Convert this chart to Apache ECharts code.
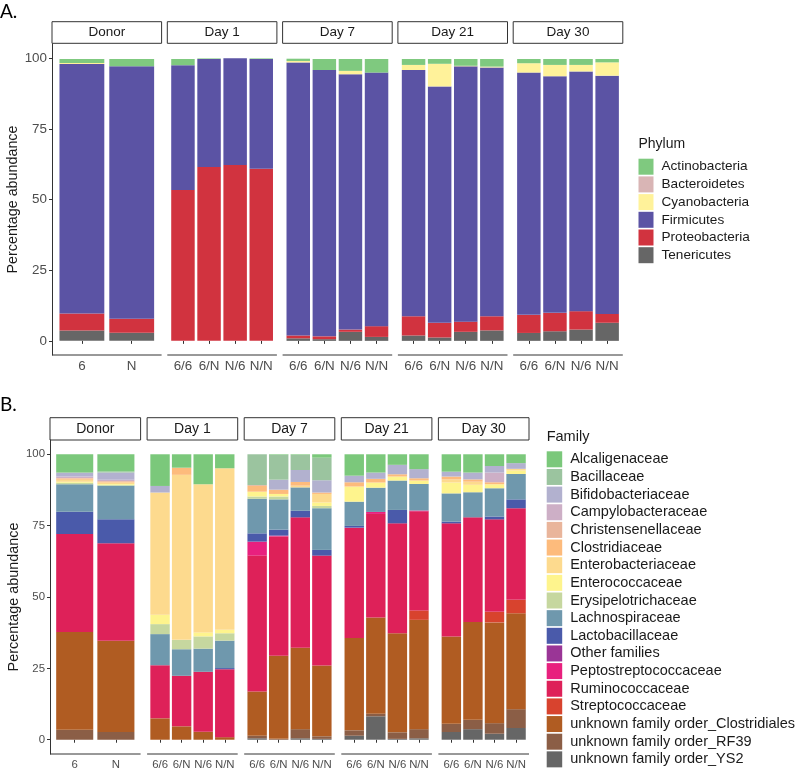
<!DOCTYPE html>
<html>
<head>
<meta charset="utf-8">
<script src="https://cdn.jsdelivr.net/npm/echarts@6/dist/echarts.min.js"></script>
<style>
html, body { margin: 0; padding: 0; background: #fff; }
#chart { width: 799px; height: 774px; }
</style>
</head>
<body>
<div id="chart"></div>
<script>
var facets = ['Donor', 'Day 1', 'Day 7', 'Day 21', 'Day 30'];
var donorSamples = ['6', 'N'];
var daySamples = ['6/6', '6/N', 'N/6', 'N/N'];
var yTicks = [0, 25, 50, 75, 100];

// every taxon array: Donor 6, N | Day 1 | Day 7 | Day 21 | Day 30  (days: 6/6, 6/N, N/6, N/N)
var phylumNames = ['Actinobacteria', 'Bacteroidetes', 'Cyanobacteria', 'Firmicutes', 'Proteobacteria', 'Tenericutes'];
var phylumColors = ['#7fc97f', '#d9b5b5', '#fff29a', '#5b53a4', '#d1333f', '#666666'];
var actinobacteria = [1.4, 2.6, 2.2, 0.2, 0, 0.2, 0.8, 3.9, 4.2, 4.8, 2.1, 1.7, 2.4, 2.7, 1.5, 2.1, 2.1, 1.2];
var bacteroidetes  = [0, 0, 0, 0, 0, 0, 0, 0, 0, 0, 0, 0, 0, 0, 0, 0, 0, 0];
var cyanobacteria  = [0.4, 0, 0, 0, 0, 0, 0.5, 0, 1.2, 0, 1.8, 8.0, 0.2, 0.3, 3.3, 4.0, 2.3, 4.7];
var firmicutes     = [88.2, 89.3, 44.1, 38.2, 37.8, 38.8, 96.6, 94.2, 90.3, 89.7, 87.1, 83.6, 90.3, 88.0, 85.7, 83.7, 84.8, 84.3];
var proteobacteria = [6.0, 4.9, 53.4, 61.5, 62.2, 60.9, 1.0, 1.0, 0.8, 3.8, 6.8, 5.2, 3.6, 5.0, 6.4, 6.5, 6.5, 3.1];
var tenericutes    = [3.7, 2.9, 0, 0, 0, 0, 0.9, 0.6, 3.2, 1.4, 1.9, 1.2, 3.2, 3.7, 2.8, 3.4, 4.0, 6.4];
var phylumValues = [actinobacteria, bacteroidetes, cyanobacteria, firmicutes, proteobacteria, tenericutes];

var familyNames = ['Alcaligenaceae', 'Bacillaceae', 'Bifidobacteriaceae', 'Campylobacteraceae',
  'Christensenellaceae', 'Clostridiaceae', 'Enterobacteriaceae', 'Enterococcaceae', 'Erysipelotrichaceae',
  'Lachnospiraceae', 'Lactobacillaceae', 'Other families', 'Peptostreptococcaceae', 'Ruminococcaceae',
  'Streptococcaceae', 'unknown family order_Clostridiales', 'unknown family order_RF39', 'unknown family order_YS2'];
var familyColors = ['#7bc87b', '#9bc49f', '#b2b1cf', '#cdafc6', '#e9b59b', '#fdbb7c', '#fdda8e', '#fef48d',
  '#c6d79f', '#6f98ad', '#4a5aaa', '#9a3596', '#e8207e', '#de2159', '#d8432e', '#b05c22', '#8b5e46', '#666666'];
var alcaligenaceae      = [6.3, 6.0, 11.1, 4.7, 10.5, 4.9, 0, 0.2, 0.2, 1.2, 7.5, 6.4, 3.7, 5.2, 6.1, 6.4, 4.1, 3.1];
var bacillaceae         = [0.3, 0.4, 0, 0, 0, 0, 10.8, 8.7, 5.3, 7.9, 0, 0, 0, 0, 0, 0, 0, 0];
var bifidobacteriaceae  = [1.2, 2.5, 2.3, 0, 0, 0, 0, 3.5, 4.2, 4.3, 2.3, 2.2, 3.3, 3.2, 1.7, 2.4, 2.3, 2.0];
var campylobacteraceae  = [0.5, 0.5, 0, 0, 0, 0, 0, 0, 0, 0, 0, 0, 0, 0, 0, 0, 3.4, 0];
var christensenellaceae = [0.2, 0.2, 0, 0, 0, 0, 0.3, 0, 0, 0, 0, 0, 0, 0, 0, 0, 0, 0];
var clostridiaceae      = [0.4, 0.3, 0, 2.5, 0, 0, 2.0, 1.5, 1.3, 0.5, 1.5, 1.3, 0.8, 0.8, 1.0, 0.8, 0.7, 0];
var enterobacteriaceae  = [0.7, 0.5, 42.8, 57.8, 51.9, 56.6, 0, 0, 0.6, 3.0, 0, 0, 0, 0, 1.1, 1.1, 0, 0.6];
var enterococcaceae     = [0.4, 0.3, 3.3, 0, 1.4, 1.2, 1.7, 0.9, 0, 1.2, 5.3, 1.8, 1.4, 1.2, 3.8, 2.6, 1.4, 1.2];
var erysipelotrichaceae = [0.5, 0.3, 3.5, 3.3, 4.3, 2.6, 0.8, 1.0, 0, 0.8, 0, 0, 0, 0, 0, 0, 0, 0];
var lachnospiraceae     = [9.6, 11.8, 10.9, 9.3, 8.1, 9.6, 12.1, 10.6, 8.2, 14.6, 8.5, 8.5, 10.3, 9.3, 9.9, 8.8, 9.9, 8.9];
var lactobacillaceae    = [7.8, 8.4, 0, 0, 0, 0.4, 2.9, 2.1, 2.3, 2.0, 0.6, 0, 4.7, 0, 0.6, 0, 1.0, 3.1];
var otherFamilies       = [0, 0, 0, 0, 0, 0, 0, 0, 0, 0, 0, 0, 0, 0, 0, 0, 0, 0];
var peptostreptococcaceae = [0, 0, 0, 0, 0, 0, 4.9, 0.3, 0, 0, 0, 0.7, 0, 0.3, 0, 0, 0, 0];
var ruminococcaceae     = [34.4, 34.1, 18.6, 17.7, 21.0, 23.8, 47.6, 41.8, 45.7, 38.5, 38.7, 36.3, 38.5, 34.7, 39.6, 36.7, 32.4, 32.1];
var streptococcaceae    = [0, 0, 0, 0, 0, 0, 0, 0, 0, 0, 0, 0, 0, 3.3, 0, 0, 3.7, 4.7];
var orderClostridiales  = [34.2, 32.0, 7.5, 4.7, 2.8, 0.9, 15.5, 29.1, 28.5, 24.8, 32.3, 33.7, 34.7, 38.3, 30.6, 34.2, 35.3, 33.6];
var orderRF39           = [3.5, 2.7, 0, 0, 0, 0, 0.9, 0.3, 3.2, 0.9, 1.9, 0.9, 2.3, 3.2, 2.9, 3.3, 3.7, 6.6];
var orderYS2            = [0, 0, 0, 0, 0, 0, 0.5, 0, 0.5, 0.3, 1.4, 8.2, 0.3, 0.5, 2.7, 3.7, 2.1, 4.1];
var familyValues = [alcaligenaceae, bacillaceae, bifidobacteriaceae, campylobacteraceae, christensenellaceae,
  clostridiaceae, enterobacteriaceae, enterococcaceae, erysipelotrichaceae, lachnospiraceae, lactobacillaceae,
  otherFamilies, peptostreptococcaceae, ruminococcaceae, streptococcaceae, orderClostridiales, orderRF39, orderYS2];

var font = "'Liberation Sans', Arial, sans-serif";

// two figure panels, each a row of 5 facets
var panels = [
  { names: phylumNames, colors: phylumColors, values: phylumValues,
    top: 44, bottom: 355, left: 52, pitch: 115.3, width: 109.6, stripTop: 21.7, stripH: 21.6,
    tickSize: 13.4, stripSize: 13.5, titleSize: 14.3, nameGap: 32,
    legend: { left: 638.5, top: 158.7, w: 15, h: 16, gap: 1.7, size: 13.6 },
    legendTitle: { text: 'Phylum', x: 638.5, y: 144, size: 14 },
    tag: { text: 'A.', y: 12 } },
  { names: familyNames, colors: familyColors, values: familyValues,
    top: 440, bottom: 754, left: 50, pitch: 97.1, width: 90.6, stripTop: 417.7, stripH: 22.3,
    tickSize: 11.4, stripSize: 14, titleSize: 14.4, nameGap: 29,
    legend: { left: 546.7, top: 451.3, w: 15.5, h: 16, gap: 1.65, size: 14.5 },
    legendTitle: { text: 'Family', x: 546.7, y: 437, size: 14.5 },
    tag: { text: 'B.', y: 405 } }
];

function samplesOf(f) { return f === 0 ? donorSamples : daySamples; }
function sliceOf(arr, f) { return f === 0 ? arr.slice(0, 2) : arr.slice(2 + (f - 1) * 4, 2 + f * 4); }

var grids = [], xAxes = [], yAxes = [], series = [], graphics = [], legends = [];

panels.forEach(function (p, pi) {
  facets.forEach(function (facet, f) {
    var gi = grids.length;
    var n = samplesOf(f).length;
    var inset = p.width * 0.1 / (n + 0.2);
    var px = p.left + p.pitch * f;
    grids.push({ left: px + inset, width: p.width - 2 * inset, top: p.top, height: p.bottom - p.top,
      containLabel: false, outerBoundsMode: 'none' });
    xAxes.push({
      type: 'category', gridIndex: gi, data: samplesOf(f),
      axisLine: { show: false },
      axisTick: { show: true, alignWithLabel: true, length: 3, lineStyle: { color: '#333' } },
      axisLabel: { color: '#4d4d4d', fontSize: p.tickSize, fontFamily: font, margin: 5, interval: 0 }
    });
    yAxes.push({
      type: 'value', gridIndex: gi, min: -5, max: 105, show: f === 0, offset: inset,
      name: 'Percentage abundance', nameLocation: 'middle', nameRotate: 90, nameGap: p.nameGap,
      nameTextStyle: { color: '#1a1a1a', fontSize: p.titleSize, fontFamily: font },
      axisLine: { show: true, lineStyle: { color: '#333', width: 1 } },
      axisTick: { show: true, length: 3, customValues: yTicks, lineStyle: { color: '#333' } },
      axisLabel: { color: '#4d4d4d', fontSize: p.tickSize, fontFamily: font, margin: 5, customValues: yTicks },
      splitLine: { show: false }
    });
    // ggplot stacks the last legend entry at the bottom
    for (var ti = p.names.length - 1; ti >= 0; ti--) {
      series.push({
        type: 'bar', name: p.names[ti], xAxisIndex: gi, yAxisIndex: gi, stack: 'p' + pi + 'f' + f,
        barWidth: '90%', data: sliceOf(p.values[ti], f),
        itemStyle: { color: p.colors[ti] }, emphasis: { disabled: true }, silent: true
      });
    }
    // facet strip and bottom axis line across the full facet
    graphics.push({ type: 'rect', shape: { x: px, y: p.stripTop, width: p.width, height: p.stripH },
      style: { fill: '#fff', stroke: '#333', lineWidth: 1 } });
    graphics.push({ type: 'text', x: px + p.width / 2, y: p.stripTop + p.stripH / 2,
      style: { text: facet, fill: '#1a1a1a', font: p.stripSize + 'px ' + font, align: 'center', verticalAlign: 'middle' } });
    graphics.push({ type: 'line', shape: { x1: px, y1: p.bottom, x2: px + p.width, y2: p.bottom },
      style: { stroke: '#333', lineWidth: 1 } });
  });

  legends.push({
    data: p.names, orient: 'vertical', left: p.legend.left, top: p.legend.top, padding: 0, height: 330,
    icon: 'rect', itemWidth: p.legend.w, itemHeight: p.legend.h, itemGap: p.legend.gap, selectedMode: false,
    textStyle: { color: '#1a1a1a', fontSize: p.legend.size, fontFamily: font, lineHeight: p.legend.h,
      padding: [0, 0, 0, 3] }
  });
  graphics.push({ type: 'text', x: p.legendTitle.x, y: p.legendTitle.y,
    style: { text: p.legendTitle.text, fill: '#1a1a1a', font: p.legendTitle.size + 'px ' + font, verticalAlign: 'middle' } });
  graphics.push({ type: 'text', x: 0, y: p.tag.y,
    style: { text: p.tag.text, fill: '#000', font: '19px Lato, sans-serif', verticalAlign: 'middle' } });
});

var chart = echarts.init(document.getElementById('chart'));
chart.setOption({
  animation: false,
  backgroundColor: '#fff',
  grid: grids,
  xAxis: xAxes,
  yAxis: yAxes,
  legend: legends,
  series: series,
  graphic: graphics
});
</script>
</body>
</html>
